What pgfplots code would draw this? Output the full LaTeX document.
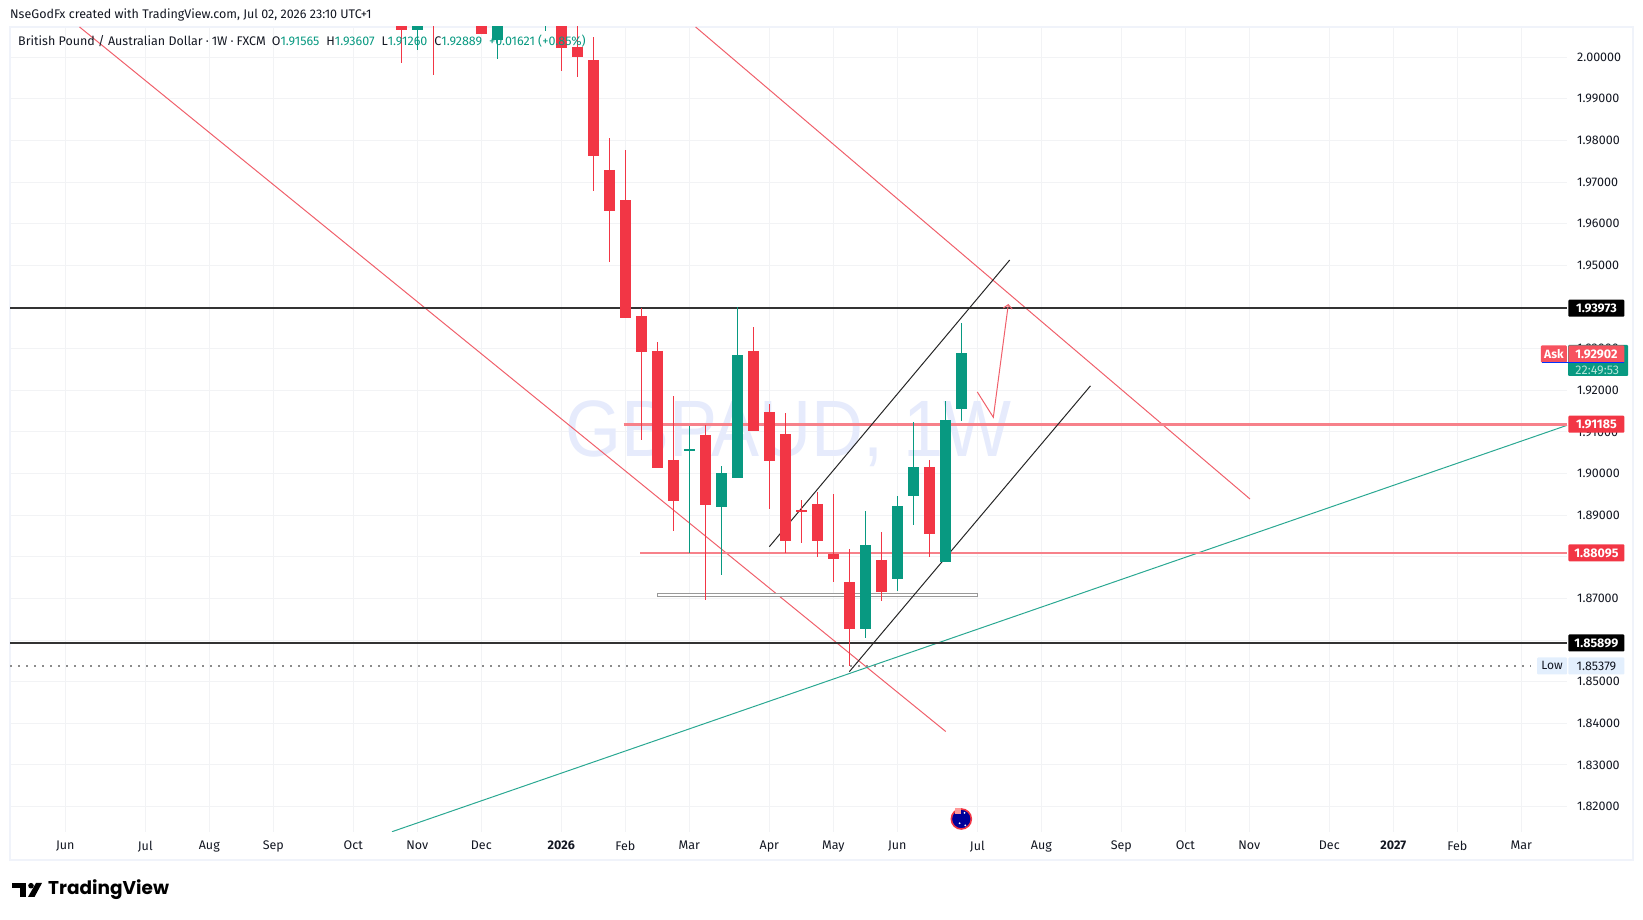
\documentclass[border=0pt]{standalone}
\usepackage{pgfplots}
\usepackage{pgfplotstable}
\usepackage{fontspec}
\pgfplotsset{compat=1.18}
\usetikzlibrary{arrows.meta}
\setmainfont{Fira Sans}
\newfontfamily\logofont{Poppins}
\newfontfamily\wmfont{Liberation Sans}
\definecolor{tvred}{HTML}{F23645}
\definecolor{tvgreen}{HTML}{089981}
\definecolor{tvline}{HTML}{F0606B}
\definecolor{tvgreenline}{HTML}{2AA892}
\definecolor{tvgrid}{HTML}{F2F3F5}
\definecolor{tvframe}{HTML}{F0F3FA}
\definecolor{tvthick}{HTML}{F7818A}
\definecolor{tvtext}{HTML}{131722}
\definecolor{tvask}{HTML}{F7525F}
\definecolor{tvlow}{HTML}{E3EFFD}
\definecolor{wmark}{HTML}{E6EBFC}
\definecolor{tvcount}{HTML}{B5E5DA}
\definecolor{tvdark}{HTML}{333333}
\pgfplotstableread{
i o h l c
-23 2.00950 2.01200 1.99869 2.00655
-21 2.01000 2.01400 1.99581 2.00950
-18 2.01200 2.01400 2.00559 2.00559
-13 2.01200 2.01400 1.99677 2.00230
-12 2.00246 2.01200 1.99533 2.00013
-11 1.99934 2.00494 1.96795 1.97635
-10 1.97292 1.98068 1.95082 1.96314
-9 1.96571 1.97772 1.93744 1.93744
-8 1.93785 1.93977 1.90806 1.92928
-7 1.92944 1.93160 1.90142 1.90142
-6 1.90326 1.91863 1.88628 1.89349
-4 1.90926 1.91166 1.86971 1.89253
-1 1.92944 1.93521 1.91030 1.91030
0 1.91479 1.91671 1.89149 1.90310
1 1.90950 1.91455 1.88100 1.88388
2 1.89125 1.89365 1.88340 1.89085
3 1.89269 1.89565 1.88004 1.88388
4 1.88068 1.89509 1.87403 1.87956
5 1.87395 1.88188 1.85379 1.86274
7 1.87924 1.88596 1.86947 1.87163
10 1.90158 1.90326 1.88004 1.88556
}\downs
\pgfplotstableread{
i o h l c
-22 2.00655 2.01400 2.00174 2.01200
-17 2.00415 2.01400 1.99958 2.01200
-14 2.00900 2.01400 2.00631 2.01200
-5 1.90550 1.91142 1.88084 1.90582
-3 1.89205 1.90182 1.87563 1.90013
-2 1.89901 1.93993 1.89901 1.92848
6 1.86274 1.89101 1.86058 1.88284
8 1.87475 1.89461 1.87187 1.89221
9 1.89469 1.91239 1.88772 1.90158
11 1.87884 1.91743 1.87884 1.91287
12 1.91559 1.93617 1.91271 1.92896
}\ups
\begin{document}
\begin{tikzpicture}[x=1pt,y=1pt]
\path (0,0) rectangle (1643,920);
\draw[tvframe,line width=2pt] (9.5,920-27) -- (9.5,920-860) -- (1633,920-860) -- (1633,920-27) -- cycle;
\begin{axis}[
  at={(10pt,88pt)},anchor=south west,
  scale only axis,width=1557pt,height=805pt,
  set layers,clip mode=individual,
  xmin=-47.456,xmax=49.856,ymin=1.81390,ymax=2.00727,
  axis line style={draw=none},
  major tick length=0pt,
  grid=major,grid style={tvgrid,line width=1pt},
  xtick={-44,-39,-35,-31,-26,-22,-18,-13,-9,-5,0,4,8,13,17,22,26,30,35,39,43,47},
  xticklabels={Jun,Jul,Aug,Sep,Oct,Nov,Dec,\textbf{2026},Feb,Mar,Apr,May,Jun,Jul,Aug,Sep,Oct,Nov,Dec,\textbf{2027},Feb,Mar},
  xticklabel style={inner sep=0pt,yshift=-9pt,font=\fontsize{12.5pt}{14pt}\selectfont,text=tvtext},
  ytick={1.82,1.83,1.84,1.85,1.86,1.87,1.88,1.89,1.90,1.91,1.92,1.93,1.94,1.95,1.96,1.97,1.98,1.99,2.00},
  yticklabel pos=right,
  yticklabel style={anchor=west,inner sep=0pt,xshift=10pt,font=\fontsize{12.5pt}{14pt}\selectfont,text=tvtext,
    /pgf/number format/.cd,fixed,fixed zerofill,precision=5,assume math mode=true},
  scaled y ticks=false,
]
\node[text=wmark,inner sep=0pt,font=\wmfont\fontsize{80pt}{80pt}\selectfont,xscale=0.9] at (axis cs:1.2,1.9095) {GBPAUD, 1W};

\addplot[tvline,line width=1pt] coordinates {(-43.11,2.00727)(11.025,1.83804)};
\addplot[tvline,line width=1pt] coordinates {(-4.606,2.00727)(30.04,1.89389)};
\addplot[tvgreenline,line width=1pt] coordinates {(-23.58,1.81397)(49.856,1.91159)};
\addplot[tvdark,line width=2pt] coordinates {(-47.456,1.93973)(49.856,1.93973)};
\addplot[tvdark,line width=2pt] coordinates {(-47.456,1.8593)(49.856,1.8593)};
\addplot[tvthick,line width=3pt] coordinates {(-9.1,1.91185)(49.856,1.91185)};
\addplot[tvthick,line width=2pt] coordinates {(-8.08,1.88095)(49.856,1.88095)};
\addplot[draw=gray!80,fill=white,line width=1pt] coordinates {(-7,1.87107)(13.03,1.87107)(13.03,1.87052)(-7,1.87052)} -- cycle;
\addplot[gray!90,line width=1.4pt,dash pattern=on 2pt off 6pt] coordinates {(-47.456,1.85379)(47.6,1.85379)};
\addplot[black!85,line width=1pt] coordinates {(0,1.88243)(15.025,1.95130)};
\addplot[black!85,line width=1pt] coordinates {(5,1.85240)(20.07,1.92106)};
\addplot[tvline,line width=1pt,-{Straight Barb[length=4pt,width=9pt]}] coordinates {(13,1.91959)(14,1.91351)(14.94,1.94073)};

% wicks and bodies
\addplot[draw=none,forget plot,error bars/.cd,y dir=both,y explicit,error mark=none,
   error bar style={tvred,line width=1pt}]
   table[x=i,y=o,y error plus expr=\thisrow{h}-\thisrow{o},y error minus expr=\thisrow{o}-\thisrow{l}] {\downs};
\addplot[draw=none,forget plot,error bars/.cd,y dir=both,y explicit,error mark=none,
   error bar style={tvgreen,line width=1pt}]
   table[x=i,y=o,y error plus expr=\thisrow{h}-\thisrow{o},y error minus expr=\thisrow{o}-\thisrow{l}] {\ups};
\addplot[draw=none,forget plot,error bars/.cd,y dir=both,y explicit,error mark=none,
   error bar style={tvred,line width=11pt}]
   table[x=i,y=o,y error plus expr=0,y error minus expr=\thisrow{o}-\thisrow{c}] {\downs};
\addplot[draw=none,forget plot,error bars/.cd,y dir=both,y explicit,error mark=none,
   error bar style={tvgreen,line width=11pt}]
   table[x=i,y=o,y error plus expr=\thisrow{c}-\thisrow{o},y error minus expr=0] {\ups};

% flag
\node[circle,draw=tvred,line width=1.6pt,fill=blue!60!black,minimum size=20pt,inner sep=0pt] at (axis cs:12,1.81702) {};
\node[circle,fill=white,minimum size=2pt,inner sep=0pt] at (axis cs:12.2,1.8185) {};
\node[circle,fill=white,minimum size=2pt,inner sep=0pt] at (axis cs:12.25,1.8155) {};
\node[circle,fill=white,minimum size=2pt,inner sep=0pt] at (axis cs:11.9,1.8160) {};
\node[fill=red!40!white,minimum width=6pt,minimum height=6pt,inner sep=0pt] at (axis cs:11.8,1.8190) {};

% price-axis labels
\tikzset{pl/.style={inner sep=0pt,minimum width=56pt,minimum height=17pt,rounded corners=1pt,
   font=\fontsize{12.5pt}{14pt}\selectfont\bfseries}}
\node[pl,fill=black,text=white] at (axis cs:51.69,1.93973) {1.93973};
\node[pl,fill=tvgreen,text=tvcount,minimum width=60pt,minimum height=31pt,align=center,text depth=0pt] at (axis cs:51.8,1.92716) {};
\node[inner sep=0pt,text=tvcount,font=\fontsize{12.5pt}{14pt}\selectfont] at (axis cs:51.75,1.92480) {22:49:53};
\node[pl,fill=tvask,text=white] at (axis cs:51.69,1.92872) {1.92902};
\node[pl,fill=tvask,text=white,minimum width=26pt] at (axis cs:49.04,1.92872) {\fontsize{12pt}{14pt}\selectfont Ask};
\node[inner sep=0pt,fill=blue!80!cyan,minimum width=82pt,minimum height=0.8pt] at (axis cs:50.85,1.92668) {};
\node[pl,fill=tvred,text=white] at (axis cs:51.69,1.91185) {1.91185};
\node[pl,fill=tvred,text=white] at (axis cs:51.69,1.88095) {1.88095};
\node[pl,fill=black,text=white] at (axis cs:51.69,1.8593) {1.85899};
\node[pl,fill=tvlow,text=tvtext,font=\fontsize{12.5pt}{14pt}\selectfont] at (axis cs:51.69,1.85379) {1.85379};
\node[pl,fill=tvlow,text=tvtext,minimum width=30pt,font=\fontsize{12pt}{14pt}\selectfont] at (axis cs:48.92,1.85379) {Low};
\end{axis}
% header and logo
\node[anchor=west,inner sep=0pt,text=tvtext,font=\fontsize{12.5pt}{14pt}\selectfont] at (10,920-15) {NseGodFx created with TradingView.com, Jul 02, 2026 23:10 UTC+1};
\node[anchor=west,inner sep=0pt,text=tvtext,font=\fontsize{12.5pt}{14pt}\selectfont] at (18,920-41.5)
 {British Pound / Australian Dollar\hspace{3pt}·\hspace{3pt}1W\hspace{3pt}·\hspace{3pt}FXCM\hspace{6pt}O\textcolor{tvgreen}{1.91565}\hspace{7pt}H\textcolor{tvgreen}{1.93607}\hspace{7pt}L\textcolor{tvgreen}{1.91260}\hspace{7pt}C\textcolor{tvgreen}{1.92889}\hspace{7pt}\textcolor{tvgreen}{+0.01621 (+0.85\%)}};
\fill[black] (11.5,920-883) rectangle (26,920-888.5);
\fill[black] (19.5,920-888) rectangle (26,920-897);
\fill[black] (31,920-885.7) circle (2.8);
\fill[black] (36,920-883) -- (42,920-883) -- (34.5,920-897) -- (28,920-897) -- cycle;
\node[anchor=west,inner sep=0pt,text=black,font=\logofont\bfseries\fontsize{18.5pt}{22pt}\selectfont] at (48,920-890) {TradingView};
\end{tikzpicture}
\end{document}
